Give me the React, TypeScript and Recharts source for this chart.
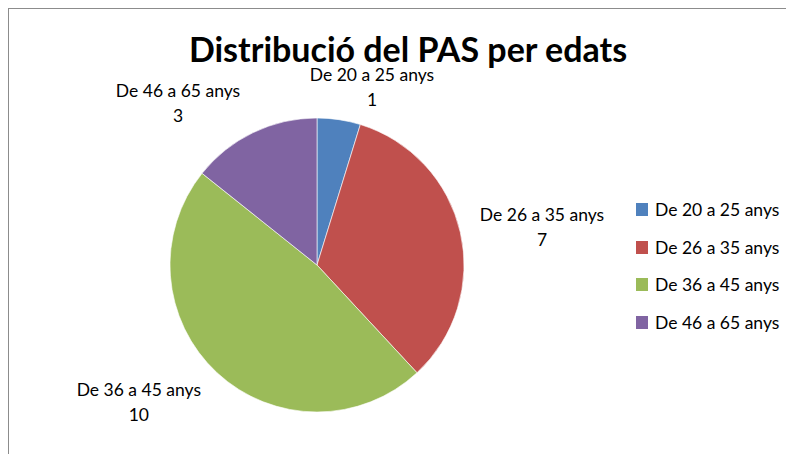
import { Legend, Pie, PieChart, Cell } from "recharts";

const categories = ["De 20 a 25 anys", "De 26 a 35 anys", "De 36 a 45 anys", "De 46 a 65 anys"];
const counts = [1, 7, 10, 3];
const colors = ["#4F81BD", "#C0504D", "#9BBB59", "#8064A2"];

const data = categories.map((name, i) => ({ name, value: counts[i] }));

const FONT = "Lato, 'Open Sans', sans-serif";
const RAD = Math.PI / 180;

function renderLabel(props: any) {
  const { cx, cy, midAngle, outerRadius, name, value } = props;
  const c = Math.cos(midAngle * RAD);
  const s = Math.sin(midAngle * RAD);
  const r = outerRadius + 12;
  const x = cx + r * c + 70 * Math.sign(c) * Math.min(1, Math.abs(c) * 3);
  const y = cy - (r + 24) * s;
  return (
    <text
      x={x}
      y={y}
      textAnchor="middle"
      fill="#000"
      fontSize={17.5}
      fontFamily={FONT}
    >
      <tspan x={x} dy={-3}>{name}</tspan>
      <tspan x={x} dy={25}>{value}</tspan>
    </text>
  );
}

function renderLegend(props: any) {
  const { payload } = props;
  return (
    <div style={{ fontFamily: FONT, fontSize: 17.5, color: "#000" }}>
      {payload.map((entry: any) => (
        <div
          key={entry.value}
          style={{ display: "flex", alignItems: "center", height: 37.5 }}
        >
          <span
            style={{
              display: "inline-block",
              width: 12,
              height: 13,
              background: entry.color,
              marginRight: 7,
            }}
          />
          <span>{entry.value}</span>
        </div>
      ))}
    </div>
  );
}

export default function App() {
  return (
    <div
      style={{
        position: "relative",
        width: 785,
        height: 445,
        borderTop: "1px solid #8c8c8c",
        borderLeft: "1px solid #8c8c8c",
        background: "#fff",
      }}
    >
      <div
        style={{
          position: "absolute",
          left: 0,
          width: 798,
          top: 26,
          textAlign: "center",
          fontFamily: FONT,
          fontWeight: 700,
          fontSize: 34,
          lineHeight: "28px",
          color: "#000",
          zIndex: 2,
        }}
      >
        Distribució del PAS per edats
      </div>
      <PieChart width={785} height={445} margin={{ top: 0, right: 0, bottom: 0, left: 0 }}>
        <Pie
          data={data}
          dataKey="value"
          nameKey="name"
          cx={308}
          cy={256}
          outerRadius={147}
          startAngle={90}
          endAngle={-270}
          stroke="#ffffff"
          strokeWidth={0.6}
          label={renderLabel}
          labelLine={false}
          isAnimationActive={false}
        >
          {data.map((d, i) => (
            <Cell key={d.name} fill={colors[i]} />
          ))}
        </Pie>
        <Legend
          layout="vertical"
          content={renderLegend}
          wrapperStyle={{ left: 627, top: 182, width: 160 }}
        />
      </PieChart>
    </div>
  );
}
